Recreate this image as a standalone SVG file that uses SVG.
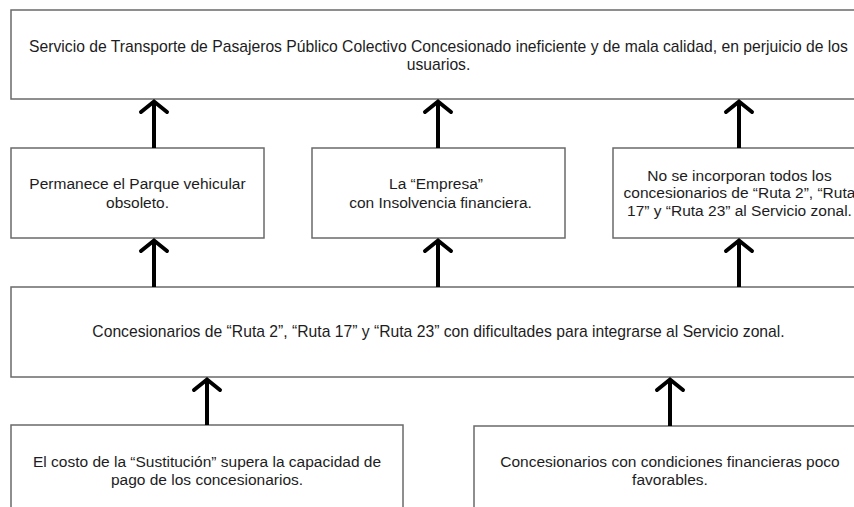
<svg xmlns="http://www.w3.org/2000/svg" width="854" height="507" viewBox="0 0 854 507">
<defs>
<style>
.box{fill:#ffffff;stroke:#6a6a6a;stroke-width:1.5}
.t{font-family:"Liberation Sans",Arial,sans-serif;font-size:15.5px;fill:#1c1c22;text-anchor:middle}
.w{font-size:15.7px}
.c{fill:none;stroke:#000000;stroke-width:4;stroke-linecap:butt}
.h{fill:none;stroke:#000000;stroke-width:4;stroke-linecap:round;stroke-linejoin:miter}
</style>
</defs>
<rect x="0" y="0" width="854" height="507" fill="#ffffff"/>
<g id="n-efecto-final">
<rect class="box" x="11" y="10" width="855" height="89"/>
<text class="t w" x="438.5" y="51.5">Servicio de Transporte de Pasajeros Público Colectivo Concesionado ineficiente y de mala calidad, en perjuicio de los</text>
<text class="t w" x="438.5" y="70">usuarios.</text>
</g>
<g id="n-parque">
<rect class="box" x="11" y="148" width="253" height="90"/>
<text class="t" x="137.5" y="189">Permanece el Parque vehicular</text>
<text class="t" x="137.5" y="207.5">obsoleto.</text>
</g>
<g id="n-empresa">
<rect class="box" x="312" y="148" width="253" height="90"/>
<text class="t" x="436" y="189">La “Empresa”</text>
<text class="t" x="440.5" y="207.5">con Insolvencia financiera.</text>
</g>
<g id="n-incorporan">
<rect class="box" x="613" y="148" width="253" height="90"/>
<text class="t" x="739.5" y="180.5">No se incorporan todos los</text>
<text class="t" x="739.5" y="198">concesionarios de “Ruta 2”, “Ruta</text>
<text class="t" x="739.5" y="215.5">17” y “Ruta 23” al Servicio zonal.</text>
</g>
<g id="n-problema">
<rect class="box" x="11" y="287" width="855" height="90"/>
<text class="t w" x="438.5" y="337">Concesionarios de “Ruta 2”, “Ruta 17” y “Ruta 23” con dificultades para integrarse al Servicio zonal.</text>
</g>
<g id="n-costo">
<rect class="box" x="11" y="425" width="392" height="95"/>
<text class="t" x="207" y="466.5">El costo de la “Sustitución” supera la capacidad de</text>
<text class="t" x="207" y="485">pago de los concesionarios.</text>
</g>
<g id="n-condiciones">
<rect class="box" x="474" y="426" width="392" height="95"/>
<text class="t" x="670" y="466.5">Concesionarios con condiciones financieras poco</text>
<text class="t" x="670" y="485">favorables.</text>
</g>
<g id="connectors">
<path class="c" d="M154 148V102"/><path class="h" d="M141 112L154 101.5L167 112"/>
<path class="c" d="M438 148V102"/><path class="h" d="M425 112L438 101.5L451 112"/>
<path class="c" d="M739 148V102"/><path class="h" d="M726 112L739 101.5L752 112"/>
<path class="c" d="M154 287V241"/><path class="h" d="M141 251L154 240.5L167 251"/>
<path class="c" d="M438 287V241"/><path class="h" d="M425 251L438 240.5L451 251"/>
<path class="c" d="M739 287V241"/><path class="h" d="M726 251L739 240.5L752 251"/>
<path class="c" d="M207 425V380"/><path class="h" d="M194 390L207 379.5L220 390"/>
<path class="c" d="M670 426V380"/><path class="h" d="M657 390L670 379.5L683 390"/>
</g>
</svg>
